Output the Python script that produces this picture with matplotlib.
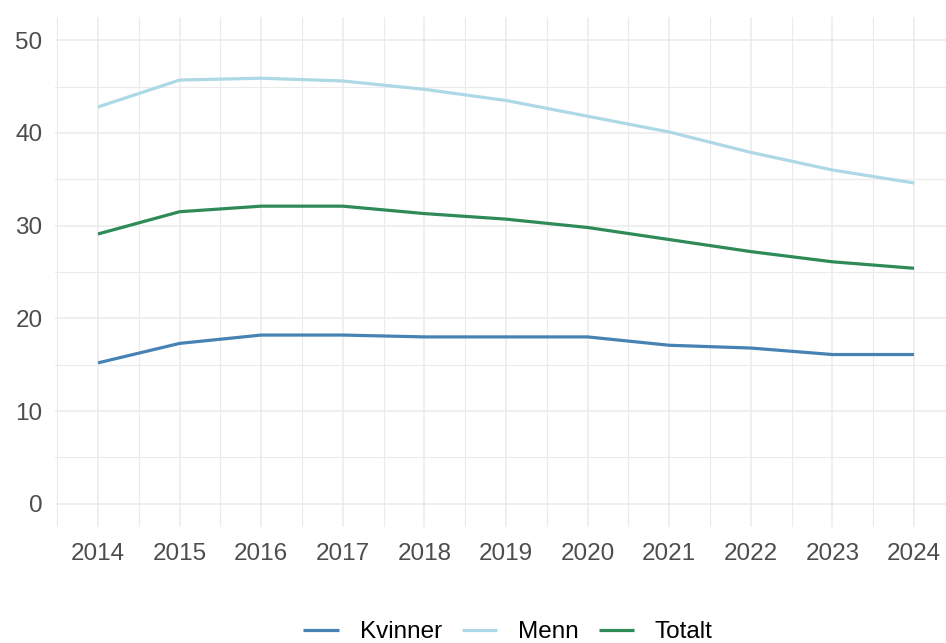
import matplotlib
matplotlib.use("Agg")
import matplotlib.pyplot as plt
from matplotlib.ticker import MultipleLocator

# data
years = [2014, 2015, 2016, 2017, 2018, 2019, 2020, 2021, 2022, 2023, 2024]
kvinner = [15.2, 17.3, 18.2, 18.2, 18.0, 18.0, 18.0, 17.1, 16.8, 16.1, 16.1]
menn = [42.8, 45.7, 45.9, 45.6, 44.7, 43.5, 41.8, 40.1, 37.9, 36.0, 34.6]
totalt = [29.1, 31.5, 32.1, 32.1, 31.3, 30.7, 29.8, 28.5, 27.2, 26.1, 25.4]

series = ["Kvinner", "Menn", "Totalt"]
colors = ["#4682B4", "#ADD8E6", "#2E8B57"]

plt.rcParams["font.family"] = ["Liberation Sans", "DejaVu Sans"]

W, H = 946, 643
fig = plt.figure(figsize=(W / 100, H / 100), dpi=100)
ax = fig.add_axes([55 / W, 116 / H, (W - 55) / W, 510 / H])

for name, vals, c in zip(series, [kvinner, menn, totalt], colors):
    ax.plot(years, vals, color=c, lw=2.3, label=name, solid_capstyle="butt")

ax.set_xlim(2013.473, 2024.392)
ax.set_ylim(-2.5, 52.5)
ax.set_xticks(years)
ax.xaxis.set_minor_locator(MultipleLocator(0.5))
ax.yaxis.set_major_locator(MultipleLocator(10))
ax.yaxis.set_minor_locator(MultipleLocator(5))

ax.grid(which="major", color="#EBEBEB", lw=1.1)
ax.grid(which="minor", color="#EBEBEB", lw=0.8)
ax.set_axisbelow(True)
for s in ax.spines.values():
    s.set_visible(False)
ax.tick_params(which="both", length=0)
ax.tick_params(axis="x", pad=11.5, labelsize=17.5, labelcolor="#4D4D4D")
ax.tick_params(axis="y", pad=9, labelsize=17.5, labelcolor="#4D4D4D")

fig.legend(loc="center", bbox_to_anchor=(508 / W, 11 / H), ncol=3, frameon=False,
           fontsize=17.5, handlelength=1.45, handletextpad=0.86, columnspacing=0.82)

fig.savefig("out.png", dpi=100)
